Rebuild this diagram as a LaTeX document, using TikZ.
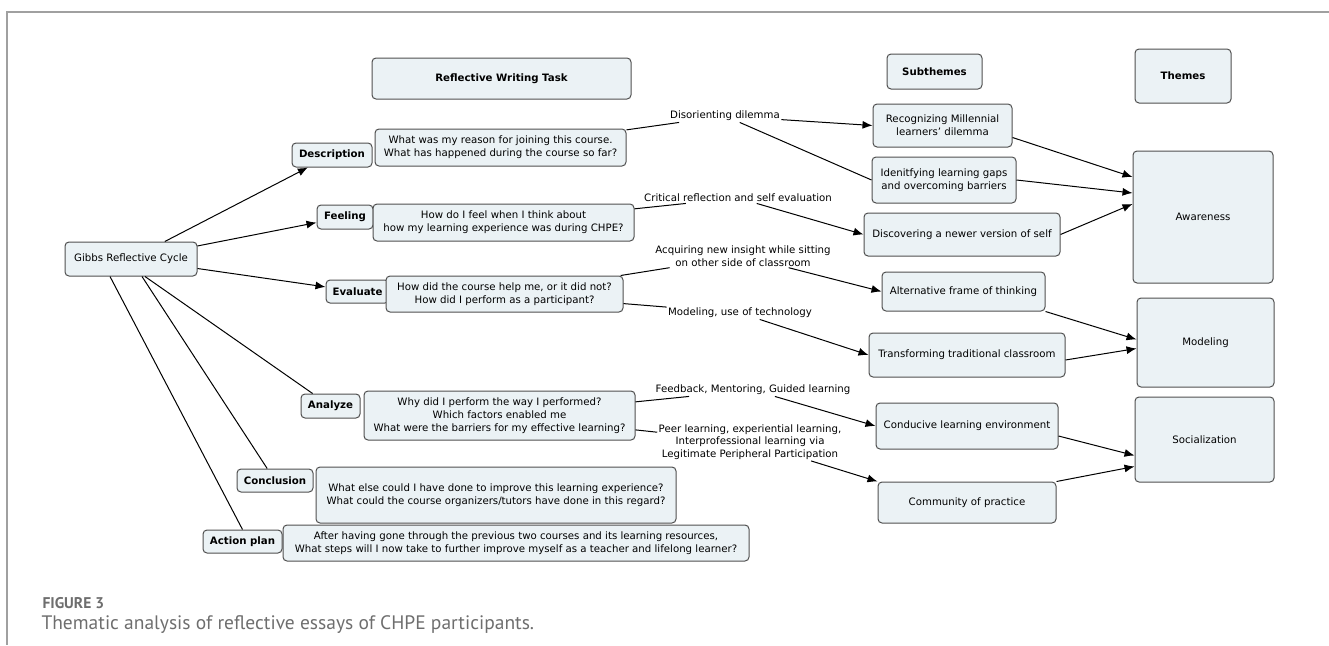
\documentclass[tikz,border=0pt]{standalone}
\usepackage{fontspec}
\setmainfont{DejaVu Sans}
\newfontfamily\capfont{PT Sans}
\usetikzlibrary{arrows.meta}
\definecolor{boxfill}{HTML}{EBF2F5}
\definecolor{boxline}{HTML}{505050}
\definecolor{framegray}{HTML}{A0A0A0}
\definecolor{capgray}{HTML}{6E6E6E}

\begin{document}
\begin{tikzpicture}
		[x=1pt,y=-1pt,line width=1pt,>={Latex[length=10pt,width=8pt]},
		box/.style={draw=boxline,fill=boxfill,rounded corners=4pt,align=center,inner sep=0pt,font=\fontsize{10.2}{13}\selectfont},
		lbl/.style={align=center,inner sep=1pt,font=\fontsize{10.2}{12.5}\selectfont}]
		\useasboundingbox (0,0) rectangle (1329,645);
		\draw[framegray,line width=1.2pt] (1329,12) -- (7,12) -- (7,645);

		\node[box,minimum width=132pt,minimum height=34pt] (gibbs) at (131,259) {Gibbs Reflective Cycle};
		\node[box,minimum width=259pt,minimum height=41pt] (task) at (501.5,78.5) {\bfseries Reflective Writing Task};
		\node[box,minimum width=95pt,minimum height=35pt] (subth) at (934.5,71.5) {\bfseries Subthemes};
		\node[box,minimum width=96pt,minimum height=54pt] (themes) at (1183,76) {\bfseries Themes};

		\node[box,minimum width=80pt,minimum height=24pt] (desc) at (332,155) {\bfseries Description};
		\node[box,minimum width=251pt,minimum height=37pt] (desct) at (500.5,147.5) {What was my reason for joining this course.\\What has happened during the course so far?};
		\node[box,minimum width=56pt,minimum height=24pt] (feel) at (345,217) {\bfseries Feeling};
		\node[box,minimum width=261pt,minimum height=37pt] (feelt) at (503.5,222.5) {How do I feel when I think about\\how my learning experience was during CHPE?};
		\node[box,minimum width=63pt,minimum height=23pt] (eval) at (357.5,291.5) {\bfseries Evaluate};
		\node[box,minimum width=237pt,minimum height=36pt] (evalt) at (504.5,294) {How did the course help me, or it did not?\\How did I perform as a participant?};
		\node[box,minimum width=59pt,minimum height=24pt] (anal) at (330.5,406) {\bfseries Analyze};
		\node[box,minimum width=271pt,minimum height=49pt] (analt) at (499.5,415.5) {Why did I perform the way I performed?\\Which factors enabled me\\What were the barriers for my effective learning?};
		\node[box,minimum width=76pt,minimum height=23pt] (concl) at (275,480.5) {\bfseries Conclusion};
		\node[box,minimum width=360pt,minimum height=56pt] (conclt) at (496,495) {What else could I have done to improve this learning experience?\\What could the course organizers/tutors have done in this regard?};
		\node[box,minimum width=79pt,minimum height=23pt] (act) at (242.5,541.5) {\bfseries Action plan};
		\node[box,minimum width=466pt,minimum height=36pt] (actt) at (516,543) {After having gone through the previous two courses and its learning resources,\\What steps will I now take to further improve myself as a teacher and lifelong learner?};

		\node[box,minimum width=139pt,minimum height=43pt] (rec) at (942.5,125.5) {Recognizing Millennial\\learners' dilemma};
		\node[box,minimum width=144pt,minimum height=46pt] (idt) at (944,180) {Idenitfying learning gaps\\and overcoming barriers};
		\node[box,minimum width=196pt,minimum height=43pt] (disc) at (962,234.5) {Discovering a newer version of self};
		\node[box,minimum width=163pt,minimum height=39pt] (alt) at (963.5,291.5) {Alternative frame of thinking};
		\node[box,minimum width=196pt,minimum height=44pt] (trans) at (967,355) {Transforming traditional classroom};
		\node[box,minimum width=182pt,minimum height=46pt] (cond) at (967,426) {Conducive learning environment};
		\node[box,minimum width=178pt,minimum height=41pt] (comm) at (967,502.5) {Community of practice};

		\node[box,minimum width=140pt,minimum height=132pt] (aware) at (1203,217) {Awareness};
		\node[box,minimum width=137pt,minimum height=89pt] (model) at (1205.5,342.5) {Modeling};
		\node[box,minimum width=139pt,minimum height=85pt] (soc) at (1204.5,439.5) {Socialization};

		\node[lbl] (dis) at (725,116) {Disorienting dilemma};
		\node[lbl] (crit) at (738,198) {Critical reflection and self evaluation};
		\node[lbl] (acq) at (743,256) {Acquiring new insight while sitting\\on other side of classroom};
		\node[lbl] (mod) at (740,313) {Modeling, use of technology};
		\node[lbl] (feed) at (753,390) {Feedback, Mentoring, Guided learning};
		\node[lbl] (peer) at (750,442) {Peer learning, experiential learning,\\Interprofessional learning via\\Legitimate Peripheral Participation};

		\draw[->] (gibbs) -- (desc);
		\draw[->] (gibbs) -- (feel);
		\draw[->] (gibbs) -- (eval);
		\draw ([xshift=14pt]gibbs.south) -- (anal);
		\draw ([xshift=11pt]gibbs.south) -- (concl);
		\draw ([xshift=-21pt]gibbs.south) -- (act.north);

		\draw (desct) -- (dis);
		\draw[->] (dis) -- (rec.west);
		\draw (dis) -- (idt.west);
		\draw (feelt) -- (crit);
		\draw[->] (crit) -- (disc.west);
		\draw (evalt) -- (acq);
		\draw[->] (acq) -- (alt.west);
		\draw (evalt) -- (mod);
		\draw[->] (mod) -- (trans.west);
		\draw (analt) -- (feed);
		\draw[->] (feed) -- (cond.west);
		\draw (analt) -- (peer);
		\draw[->] (peer) -- (comm.north west);

		\draw[->] ([yshift=-12pt]rec.east) -- ([yshift=40pt]aware.west);
		\draw[->] (idt.east) -- ([yshift=24pt]aware.west);
		\draw[->] (disc.east) -- ([yshift=13pt]aware.west);
		\draw[->] (alt.south east) -- ([yshift=3pt]model.west);
		\draw[->] ([yshift=-5pt]trans.east) -- ([yshift=-6pt]model.west);
		\draw[->] ([yshift=-10pt]cond.east) -- ([yshift=-16pt]soc.west);
		\draw[->] (comm.north east) -- ([yshift=-27pt]soc.west);

		\node[anchor=west,inner sep=0pt,text=capgray,font=\capfont\bfseries\fontsize{15.5}{18}\selectfont] (fig) at (42,603) {FIGURE 3};
		\node[anchor=west,inner sep=0pt,text=capgray,font=\capfont\fontsize{19.5}{23}\selectfont] (cap) at (41,625) {Thematic analysis of reflective essays of CHPE participants.};

	\end{tikzpicture}
\end{document}
